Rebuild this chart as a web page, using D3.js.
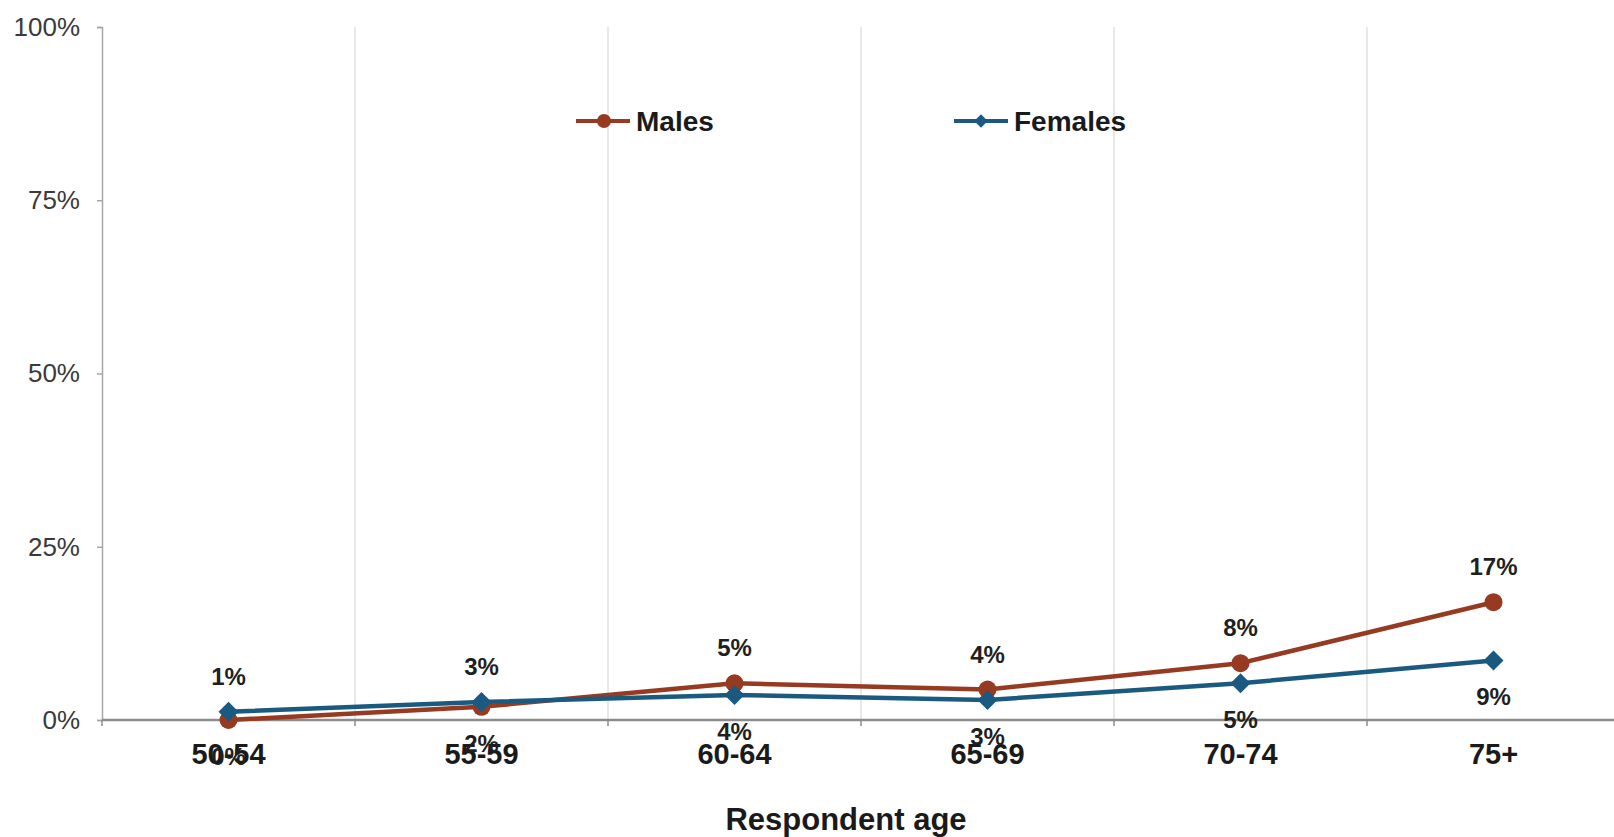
<!DOCTYPE html>
<html><head><meta charset="utf-8">
<script src="https://cdn.jsdelivr.net/npm/d3@7"></script>
<style>
html,body{margin:0;padding:0;background:#fff;}
svg{display:block;font-family:"Liberation Sans",Arial,sans-serif;}
</style></head>
<body>
<svg id="chart" width="1614" height="837"></svg>
<script>
const categories = ["50-54","55-59","60-64","65-69","70-74","75+"];
const males = [0, 1.9, 5.3, 4.4, 8.2, 17.0];
const females = [1.2, 2.6, 3.6, 2.9, 5.3, 8.6];
const yTicks = [0, 25, 50, 75, 100];
const seriesNames = ["Males", "Females"];
const xTitle = "Respondent age";

const W = 1614, H = 837;
const m = {left:102, top:27, bottom:117};
const plotW = 253 * categories.length;
const svg = d3.select("#chart");

const x = d3.scaleBand().domain(categories).range([m.left, m.left + plotW]);
const y = d3.scaleLinear().domain([0, 100]).range([H - m.bottom, m.top]);
const cx = d => x(d) + x.bandwidth() / 2;

const colors = {Males: "#963a22", Females: "#1a5a80"};

// vertical gridlines at category boundaries
svg.append("g").selectAll("line").data(categories.slice(1)).join("line")
  .attr("x1", d => x(d)).attr("x2", d => x(d))
  .attr("y1", y(100)).attr("y2", y(0))
  .attr("stroke", "#d9d9d9").attr("stroke-width", 1.2);

// y axis
const yAxis = svg.append("g").attr("transform", `translate(${m.left},0)`)
  .call(d3.axisLeft(y).tickValues(yTicks).tickFormat(d => d + "%").tickSize(5).tickPadding(17));
yAxis.select(".domain").attr("stroke", "#a6a6a6").attr("stroke-width", 1.5);
yAxis.selectAll(".tick line").attr("stroke", "#a6a6a6").attr("stroke-width", 1.5);
yAxis.selectAll(".tick text").attr("font-size", 26).attr("fill", "#3a3a3a")
  .attr("font-family", "'Liberation Sans',Arial,sans-serif");

// x axis line + ticks at boundaries
const xg = svg.append("g");
xg.append("line").attr("x1", m.left).attr("x2", m.left + plotW)
  .attr("y1", y(0)).attr("y2", y(0)).attr("stroke", "#8c8c8c").attr("stroke-width", 2.5);
xg.selectAll("line.tk").data(categories).join("line")
  .attr("class", "tk")
  .attr("x1", d => x(d)).attr("x2", d => x(d))
  .attr("y1", y(0)).attr("y2", y(0) + 6)
  .attr("stroke", "#8c8c8c").attr("stroke-width", 1.5);
xg.selectAll("text").data(categories).join("text")
  .attr("x", d => cx(d)).attr("y", y(0) + 44)
  .attr("text-anchor", "middle").attr("font-size", 29).attr("font-weight", "bold")
  .attr("fill", "#1a1a1a").text(d => d);

// x title
svg.append("text").attr("x", 846).attr("y", 830)
  .attr("text-anchor", "middle").attr("font-size", 31).attr("font-weight", "bold")
  .attr("fill", "#1a1a1a").text(xTitle);

const series = [
  {name: seriesNames[0], values: males, other: females, marker: "circle"},
  {name: seriesNames[1], values: females, other: males, marker: "diamond"}
];

const line = d3.line().x((d, i) => cx(categories[i])).y(d => y(d));
const square = d3.symbol().type(d3.symbolSquare);

series.forEach(s => {
  const g = svg.append("g");
  g.append("path").attr("d", line(s.values)).attr("fill", "none")
    .attr("stroke", colors[s.name]).attr("stroke-width", 4.5).attr("stroke-linejoin", "round");
  if (s.marker === "circle") {
    g.selectAll("circle").data(s.values).join("circle")
      .attr("cx", (d, i) => cx(categories[i])).attr("cy", d => y(d)).attr("r", 9)
      .attr("fill", colors[s.name]);
  } else {
    g.selectAll("path.mk").data(s.values).join("path").attr("class", "mk")
      .attr("transform", (d, i) => `translate(${cx(categories[i])},${y(d)}) rotate(45)`)
      .attr("d", square.size(200)())
      .attr("fill", colors[s.name]);
  }
});

// data labels: higher value above, lower below
const fmt = d3.format(".0%");
series.forEach(s => {
  svg.append("g").selectAll("text").data(s.values).join("text")
    .attr("x", (d, i) => cx(categories[i]))
    .attr("y", (d, i) => d >= s.other[i] ? y(d) - 27 : y(d) + 45)
    .attr("text-anchor", "middle").attr("font-size", 24).attr("font-weight", "bold")
    .attr("fill", "#1f1f1f").text(d => fmt(d / 100));
});

// legend
const legend = [
  {name: seriesNames[0], x0: 576, marker: "circle"},
  {name: seriesNames[1], x0: 954, marker: "diamond"}
];
const ly = 121;
legend.forEach(l => {
  const g = svg.append("g");
  g.append("line").attr("x1", l.x0).attr("x2", l.x0 + 54).attr("y1", ly).attr("y2", ly)
    .attr("stroke", colors[l.name]).attr("stroke-width", 4);
  if (l.marker === "circle") {
    g.append("circle").attr("cx", l.x0 + 28).attr("cy", ly).attr("r", 7).attr("fill", colors[l.name]);
  } else {
    g.append("path").attr("transform", `translate(${l.x0 + 27},${ly}) rotate(45)`)
      .attr("d", square.size(90)()).attr("fill", colors[l.name]);
  }
  g.append("text").attr("x", l.x0 + 60).attr("y", ly + 10)
    .attr("font-size", 28).attr("font-weight", "bold").attr("fill", "#1a1a1a").text(l.name);
});
</script>
</body></html>
